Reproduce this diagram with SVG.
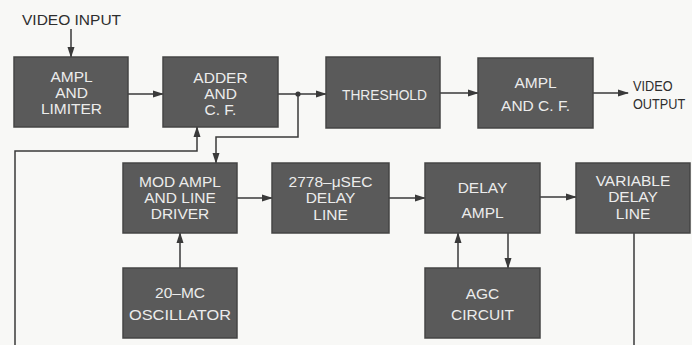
<svg xmlns="http://www.w3.org/2000/svg" width="692" height="345" viewBox="0 0 692 345">
<style>
.box{fill:#5a5a5a;stroke:#454545;stroke-width:1.5}
.bt{font-family:"Liberation Sans",Arial,sans-serif;font-size:15.5px;fill:#ececec;text-anchor:middle}
.lbl{font-family:"Liberation Sans",Arial,sans-serif;font-size:15.5px;fill:#2e2e2e}
.c{fill:none;stroke:#3a3a3a;stroke-width:1.5}
</style>
<defs>
<marker id="ah" markerWidth="11" markerHeight="8" refX="10" refY="4" orient="auto" markerUnits="userSpaceOnUse">
<path d="M0,0.5 L11,4 L0,7.5 Z" fill="#3a3a3a"/>
</marker>
</defs>
<rect width="692" height="345" fill="#f8f8f6"/>
<text class="lbl" x="22" y="25">VIDEO INPUT</text>
<text class="lbl" transform="translate(633,90.5) scale(0.82,1)">VIDEO</text>
<text class="lbl" transform="translate(633,108.5) scale(0.82,1)">OUTPUT</text>

<g id="connectors">
<path class="c" d="M71,29 V57" marker-end="url(#ah)"/>
<path class="c" d="M128,94 H163" marker-end="url(#ah)"/>
<path class="c" d="M278,94 H326" marker-end="url(#ah)"/>
<circle cx="298" cy="94" r="2.6" fill="#3a3a3a"/>
<path class="c" d="M298,94 V137 H216 V163" marker-end="url(#ah)"/>
<path class="c" d="M15,345 V151 H197 V127" marker-end="url(#ah)"/>
<path class="c" d="M440,93 H478" marker-end="url(#ah)"/>
<path class="c" d="M593,93 H628" marker-end="url(#ah)"/>
<path class="c" d="M237,198 H272" marker-end="url(#ah)"/>
<path class="c" d="M389,198 H425" marker-end="url(#ah)"/>
<path class="c" d="M540,197 H576" marker-end="url(#ah)"/>
<path class="c" d="M180,268 V233" marker-end="url(#ah)"/>
<path class="c" d="M458,268 V233" marker-end="url(#ah)"/>
<path class="c" d="M508,233 V268" marker-end="url(#ah)"/>
<path class="c" d="M634,233 V345"/>
</g>

<g id="ampl-limiter">
<rect class="box" x="14" y="57" width="114" height="70"/>
<text class="bt" x="71.5" y="82">AMPL</text>
<text class="bt" x="71.5" y="98">AND</text>
<text class="bt" x="71.5" y="114">LIMITER</text>
</g>
<g id="adder-cf">
<rect class="box" x="163" y="57" width="115" height="70"/>
<text class="bt" x="220.5" y="82.5">ADDER</text>
<text class="bt" x="220.5" y="98.5">AND</text>
<text class="bt" x="220.5" y="114.5">C. F.</text>
</g>
<g id="threshold">
<rect class="box" x="326" y="57" width="114" height="71"/>
<text class="bt" x="384.5" y="100" textLength="85" lengthAdjust="spacingAndGlyphs">THRESHOLD</text>
</g>
<g id="ampl-cf">
<rect class="box" x="478" y="58" width="115" height="70"/>
<text class="bt" x="535.5" y="87.5">AMPL</text>
<text class="bt" x="535.5" y="111">AND  C. F.</text>
</g>
<g id="mod-ampl">
<rect class="box" x="123" y="163" width="114" height="70"/>
<text class="bt" x="180" y="187">MOD AMPL</text>
<text class="bt" x="180" y="203">AND LINE</text>
<text class="bt" x="180" y="219">DRIVER</text>
</g>
<g id="delay-line">
<rect class="box" x="272" y="163" width="117" height="70"/>
<text class="bt" x="330.5" y="187">2778–μSEC</text>
<text class="bt" x="330.5" y="203">DELAY</text>
<text class="bt" x="330.5" y="219.5">LINE</text>
</g>
<g id="delay-ampl">
<rect class="box" x="425" y="163" width="115" height="70"/>
<text class="bt" x="482.5" y="192.5">DELAY</text>
<text class="bt" x="482.5" y="217.5">AMPL</text>
</g>
<g id="variable-delay-line">
<rect class="box" x="576" y="163" width="114" height="70"/>
<text class="bt" x="633" y="186">VARIABLE</text>
<text class="bt" x="633" y="202">DELAY</text>
<text class="bt" x="633" y="219">LINE</text>
</g>
<g id="oscillator">
<rect class="box" x="123" y="268" width="114" height="70"/>
<text class="bt" x="180" y="298">20–MC</text>
<text class="bt" x="180" y="320" textLength="102" lengthAdjust="spacingAndGlyphs">OSCILLATOR</text>
</g>
<g id="agc-circuit">
<rect class="box" x="425" y="268" width="115" height="70"/>
<text class="bt" x="482.5" y="299">AGC</text>
<text class="bt" x="482.5" y="320">CIRCUIT</text>
</g>
</svg>
